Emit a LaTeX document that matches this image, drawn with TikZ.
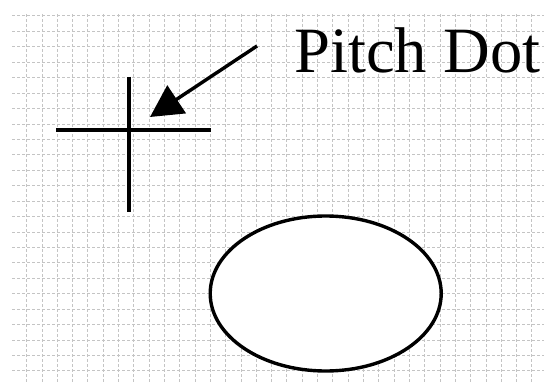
\documentclass[tikz,border=0pt]{standalone}
\usepackage{fontspec}
\setmainfont{Liberation Serif}
\usepackage{xcolor}
\usetikzlibrary{arrows.meta,shapes.geometric}
\definecolor{sketchInk}{HTML}{000000}
\definecolor{sketchGrid}{HTML}{C4C4C4}
\definecolor{sketchPaper}{HTML}{FFFFFF}
\tikzset{
  gridline/.style={draw=sketchGrid,line width=0.5pt,dash pattern=on 1.5pt off 1pt},
  crossline/.style={draw=sketchInk,line width=1.7pt},
  pointerarrow/.style={-{Triangle[length=16pt,width=16.5pt]},line width=1.7pt,draw=sketchInk},
  padshape/.style={ellipse,draw=sketchInk,fill=sketchPaper,line width=1.7pt,
    minimum width=115.5pt,minimum height=77.5pt,inner sep=0pt},
  labeltext/.style={font=\fontsize{32.3}{38}\selectfont,text=sketchInk,inner sep=0pt}
}

\begin{document}
\begin{tikzpicture}[x=0.5pt,y=-0.5pt]
    \useasboundingbox[fill=sketchPaper] (0,0) rectangle (544,384);
    % dashed grid
    \foreach \gx in {0,...,33}
      \draw[gridline] ({26.7+15.31*\gx},14) -- ({26.7+15.31*\gx},384);
    \foreach \gy in {0,...,23}
      \draw[gridline] (12,{16+15.43*\gy}) -- (544,{16+15.43*\gy});
    % cross of the pitch dot
    \coordinate (pitchdot) at (129,130);
    \draw[crossline] (56,130) -- (211,130);
    \draw[crossline] (129,77) -- (129,212);
    \node[labeltext,anchor=base west] (pitchlabel) at (294,73) {Pitch Dot};
    \coordinate (arrowstart) at (257,46);
    \coordinate (arrowtip) at (150,117);
    \draw[pointerarrow] (arrowstart) -- (arrowtip);
    \node[padshape] (pad) at (325.7,293.5) {};
  \end{tikzpicture}
\end{document}
